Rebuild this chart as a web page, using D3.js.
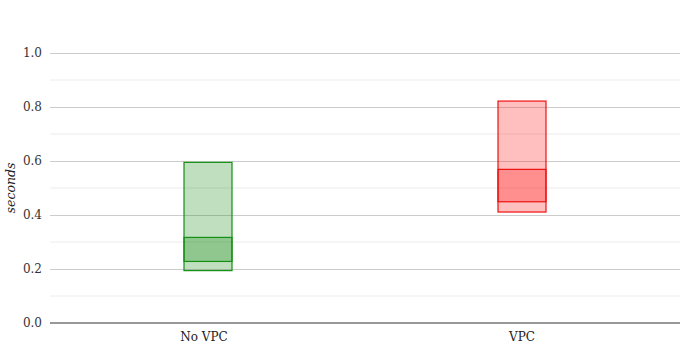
<!DOCTYPE html>
<html><head><meta charset="utf-8">
<script src="https://cdn.jsdelivr.net/npm/d3@7"></script>
<style>body{margin:0;background:#fff}svg{display:block}text{font-family:"DejaVu Serif",serif;}</style>
</head><body>
<script>
const categories = ["No VPC", "VPC"];
const minValues = [0.194, 0.411];
const maxValues = [0.595, 0.822];
const lowerValues = [0.228, 0.449];
const upperValues = [0.317, 0.569];
const colors = ["#159015", "#ee1111"];
const fills = ["#008000", "#ff0000"];
const yTicks = [0, 0.2, 0.4, 0.6, 0.8, 1.0];
const yMinorTicks = [0.1, 0.3, 0.5, 0.7, 0.9];

const W = 700, H = 359;
const svg = d3.select("body").append("svg").attr("width", W).attr("height", H);
const y = d3.scaleLinear().domain([0, 1]).range([323, 53]);
const x = d3.scalePoint().domain(categories).range([208, 522]);
const boxW = 48;

// minor grid
svg.append("g").selectAll("line").data(yMinorTicks).join("line")
  .attr("x1", 50).attr("x2", 680).attr("y1", d => y(d)).attr("y2", d => y(d))
  .attr("stroke", "#ececec").attr("stroke-width", 1);
// major grid via axis
const yAxis = svg.append("g").attr("transform", "translate(50,0)")
  .call(d3.axisRight(y).tickValues(yTicks.filter(d => d > 0)).tickSize(630).tickFormat(""));
yAxis.select(".domain").remove();
yAxis.selectAll("line").attr("stroke", "#cccccc");
// tick labels
svg.append("g").selectAll("text").data(yTicks).join("text")
  .attr("x", 42).attr("y", d => y(d)).attr("dy", "0.35em")
  .attr("text-anchor", "end").attr("font-size", 12).attr("fill", "#333")
  .text(d3.format(".1f"));
// axis label
svg.append("text").attr("transform", "translate(15,188) rotate(-90)")
  .attr("text-anchor", "middle").attr("font-size", 12.5).attr("font-style", "italic").attr("fill", "#222")
  .text("seconds");

categories.forEach((c, i) => {
  const g = svg.append("g");
  g.append("rect").attr("x", x(c) - boxW / 2).attr("width", boxW)
    .attr("y", y(maxValues[i])).attr("height", y(minValues[i]) - y(maxValues[i]))
    .attr("fill", fills[i]).attr("fill-opacity", 0.25)
    .attr("stroke", colors[i]).attr("stroke-width", 1.2);
  g.append("rect").attr("x", x(c) - boxW / 2).attr("width", boxW)
    .attr("y", y(upperValues[i])).attr("height", y(lowerValues[i]) - y(upperValues[i]))
    .attr("fill", fills[i]).attr("fill-opacity", 0.25)
    .attr("stroke", colors[i]).attr("stroke-width", 1.2);
});

// x axis line
svg.append("line").attr("x1", 50).attr("x2", 680).attr("y1", y(0)).attr("y2", y(0))
  .attr("stroke", "#333").attr("stroke-width", 1);
svg.append("g").selectAll("text").data(categories).join("text")
  .attr("x", (d, i) => x(d) - (i === 0 ? 4 : 0)).attr("y", 341)
  .attr("text-anchor", "middle").attr("font-size", 12).attr("fill", "#222")
  .text(d => d);
</script>
</body></html>
